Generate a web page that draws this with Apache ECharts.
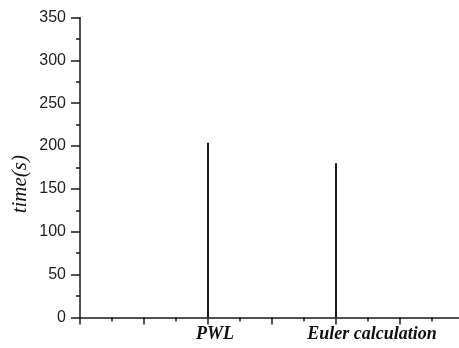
<!DOCTYPE html>
<html>
<head>
<meta charset="utf-8">
<script src="https://cdn.jsdelivr.net/npm/echarts@6/dist/echarts.min.js"></script>
<style>html,body{margin:0;padding:0;background:#fff}#c{width:459px;height:348px}</style>
</head>
<body>
<div id="c"></div>
<script>
// Data
var categories = ["PWL", "Euler calculation"];
var categoryPositions = [2, 4];
var timeValues = [204, 180];
var yTicks = [0, 50, 100, 150, 200, 250, 300, 350];
var yAxisTitle = 'time(s)';

var chart = echarts.init(document.getElementById('c'), null, {renderer: 'canvas'});
var lineColor = '#1a1a1a';
var data = categoryPositions.map(function (p, i) { return [p, timeValues[i]]; });
var labelStyle = {fontFamily: 'Liberation Serif', fontStyle: 'italic', fontWeight: 'bold', fontSize: 18, color: '#111'};

chart.setOption({
  animation: false,
  backgroundColor: '#fff',
  grid: {left: 80, width: 384, top: 17.5, bottom: 30.5, containLabel: false, outerBoundsMode: 'none'},
  graphic: [{
    type: 'text', left: 10, top: 155,
    style: {
      text: yAxisTitle, fill: '#111',
      font: 'italic 21px "Liberation Serif"'
    },
    rotation: Math.PI / 2,
    originX: 0, originY: 0
  }],
  xAxis: {
    type: 'value', min: 0, max: 6, interval: 1,
    axisLine: {show: true, onZero: false, lineStyle: {color: lineColor, width: 1.5}},
    axisTick: {show: true, inside: false, length: 7, lineStyle: {color: lineColor, width: 1.5}},
    minorTick: {show: true, splitNumber: 2, length: 4, lineStyle: {color: lineColor, width: 1.5}},
    splitLine: {show: false},
    axisLabel: {
      show: true, margin: 8, color: '#111',
      fontFamily: 'Liberation Serif', fontStyle: 'italic', fontWeight: 'bold', fontSize: 18,
      formatter: function (v) {
        var idx = categoryPositions.indexOf(v);
        if (idx < 0) return '';
        return '{l' + idx + '|' + categories[idx] + '}';
      },
      rich: {
        l0: Object.assign({padding: [0, 0, 0, 14]}, labelStyle),
        l1: Object.assign({padding: [0, 0, 0, 72]}, labelStyle)
      }
    }
  },
  yAxis: {
    type: 'value', min: yTicks[0], max: yTicks[yTicks.length - 1], interval: 50,
    axisLine: {show: true, lineStyle: {color: lineColor, width: 1.5}},
    axisTick: {show: true, inside: false, length: 9, lineStyle: {color: lineColor, width: 1.5}},
    minorTick: {show: true, splitNumber: 2, length: 4, lineStyle: {color: lineColor, width: 1.5}},
    splitLine: {show: false},
    axisLabel: {color: '#222', fontFamily: 'Liberation Sans', fontSize: 16, margin: 14}
  },
  series: [{
    type: 'bar', data: data, barWidth: 2,
    itemStyle: {color: lineColor}
  }]
});
</script>
</body>
</html>
